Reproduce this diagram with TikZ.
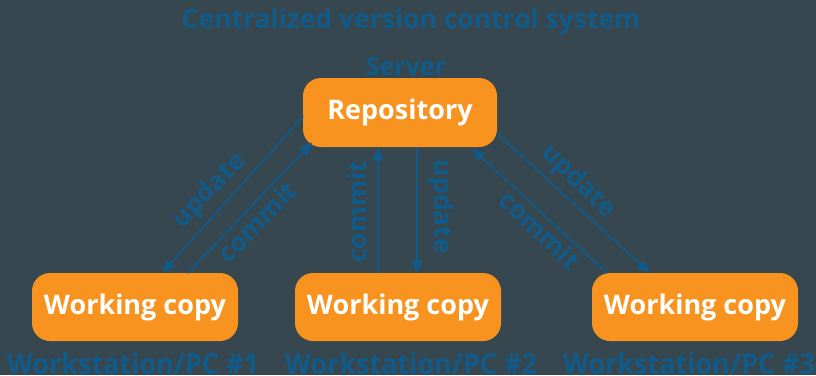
\documentclass[tikz,border=0pt]{standalone}
\usepackage{fontspec}
\setmainfont{Open Sans}
\usetikzlibrary{arrows.meta}
\definecolor{bg}{HTML}{37474F}
\definecolor{bl}{HTML}{115B8A}
\definecolor{og}{HTML}{F7931E}
\tikzset{
  box/.style={fill=og, rounded corners=18pt, text=white, font=\fontsize{27}{30}\selectfont\bfseries, inner sep=0pt, align=center},
  lbl/.style={text=bl, font=\fontsize{29}{32}\selectfont\bfseries, inner sep=0pt, xscale=0.93},
  alab/.style={text=bl, font=\fontsize{26.5}{29}\selectfont\bfseries, inner sep=0pt, xscale=0.97},
  conn/.style={draw=bl, line width=1.8pt, -{Triangle[length=13pt,width=11pt]}},
}
\begin{document}
\begin{tikzpicture}[x=1pt,y=-1pt]
\fill[bg] (0,0) rectangle (816,375);
\useasboundingbox (0,0) rectangle (816,375);
\node[text=bl, font=\fontsize{26.5}{30}\selectfont\bfseries, inner sep=0pt, anchor=base] (title) at (411,28) {Centralized version control system};
\node[text=bl, font=\fontsize{25}{28}\selectfont\bfseries, inner sep=0pt, anchor=base] (server) at (406,75) {Server};
\node[box, minimum width=194pt, minimum height=69pt] (repo) at (400,112.5) {Repository};
\node[box, minimum width=206pt, minimum height=68pt] (wc1) at (135,307) {Working copy};
\node[box, minimum width=206pt, minimum height=68pt] (wc2) at (398,307) {Working copy};
\node[box, minimum width=206pt, minimum height=68pt] (wc3) at (695,307) {Working copy};
\node[lbl, anchor=base] (pc1) at (133,374) {Workstation/PC \#1};
\node[lbl, anchor=base] (pc2) at (411,374) {Workstation/PC \#2};
\node[lbl, anchor=base] (pc3) at (689,374) {Workstation/PC \#3};
% left pair
\draw[conn] ([shift={(-97,4)}]repo.center) -- ([shift={(27,-34)}]wc1.center);
\draw[conn] ([shift={(53,-34)}]wc1.center) -- ([shift={(-88,30)}]repo.center);
\node[alab, rotate=45] (u1) at (210,191) {update};
\node[alab, rotate=45] (c1) at (257,222) {commit};
% middle pair
\draw[conn] ([shift={(-20,-34)}]wc2.center) -- ([shift={(-22,35)}]repo.center);
\draw[conn] ([shift={(17,35)}]repo.center) -- ([shift={(19,-34)}]wc2.center);
\node[alab, rotate=90] (c2) at (357,212) {commit};
\node[alab, rotate=-90] (u2) at (441,207) {update};
% right pair
\draw[conn] ([shift={(97,21)}]repo.center) -- ([shift={(-45,-34)}]wc3.center);
\draw[conn] ([shift={(-88,-34)}]wc3.center) -- ([shift={(72,36)}]repo.center);
\node[alab, rotate=-43] (u3) at (578,182) {update};
\node[alab, rotate=-43] (c3) at (540,230) {commit};
\end{tikzpicture}
\end{document}
